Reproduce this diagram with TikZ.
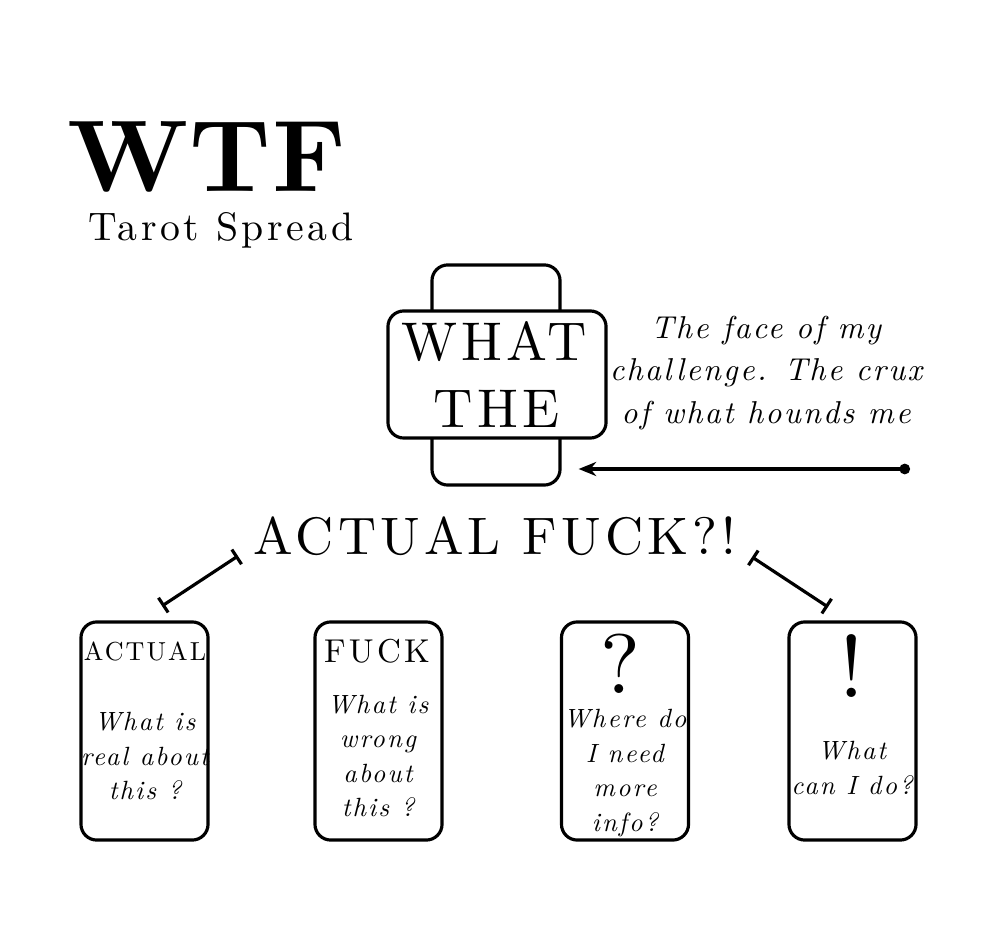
\documentclass[tikz,border=0pt]{standalone}
\usepackage{fontspec}
\setmainfont{lmroman10-regular.otf}[
  ItalicFont=lmroman10-italic.otf,
  BoldFont=lmroman10-bold.otf,
  BoldItalicFont=lmroman10-bolditalic.otf]
\usepackage{tikz}
\usetikzlibrary{arrows.meta}
\usetikzlibrary{positioning}
\newcommand{\lsp}[1]{\addfontfeature{LetterSpace=#1}}
\tikzset{
  card/.style={draw, line width=0.9pt, rounded corners=4.5pt, fill=white},
  cardsize/.style={minimum width=1.27cm, minimum height=2.18cm},
  word/.style={inner sep=0pt, align=center},
  body/.style={word, font=\fontsize{7.5}{9.8}\selectfont\itshape\lsp{8}},
  bracket/.style={line width=0.9pt, {Bar[width=5pt]}-{Bar[width=5pt]}},
  pointer/.style={line width=0.9pt, {Circle[length=3pt]}-{Stealth[length=5pt,width=4pt]}}
}
\begin{document}
\begin{tikzpicture}[x=0.01cm,y=-0.01cm]
\useasboundingbox (0,0) rectangle (1000,949);
% heading
\node[word, font=\fontsize{29}{29}\selectfont\bfseries\lsp{1}] (wtf) at (207,157) {WTF};
\node[word, font=\fontsize{11.3}{12}\selectfont\lsp{9}] (spread) at (221,230) {Tarot Spread};

% centre card and the one laid across it
\node[card, minimum width=1.28cm, minimum height=2.2cm] (back) at (496,375) {};
\node[card, minimum width=2.18cm, minimum height=1.27cm] (cross) at (497,374.5) {};
\node[word, font=\fontsize{15.5}{16}\selectfont\lsp{8}] (what) at (494,342) {WHAT};
\node[word, font=\fontsize{15.5}{16}\selectfont\lsp{8}] (the) at (497,409) {THE};
\node[word, font=\fontsize{9}{12}\selectfont\itshape\lsp{7}] (face) at (766,373)
  {The face of my\\challenge. The crux\\of what hounds me};
\coordinate (dot) at (910,469);
\draw[pointer, shorten >=0.17cm] (dot) -- (back.east |- dot);

% spread line
\node[word, font=\fontsize{15}{16}\selectfont\lsp{8}] (af) at (495,536) {ACTUAL FUCK?!};
\coordinate (lbar) at (238,556);
\coordinate (ltip) at (162,606);
\coordinate (rbar) at (752,557);
\coordinate (rtip) at (828,607);
\draw[bracket] (lbar) -- (ltip);
\draw[bracket] (rbar) -- (rtip);

% the four cards
\node[card, cardsize] (actual) at (144.5,731) {};
\node[card, cardsize] (fuck) at (378.5,731) {};
\node[card, cardsize] (quest) at (625,731) {};
\node[card, cardsize] (bang) at (852.5,731) {};

\node[word, font=\fontsize{7.4}{8}\selectfont\lsp{8}] (actualt) at (145,651) {ACTUAL};
\node[word, font=\fontsize{9.4}{10}\selectfont\lsp{10}] (fuckt) at (377,651) {FUCK};
\node[word, font=\fontsize{24}{24}\selectfont] (questt) at (620,664) {?};
\node[word, font=\fontsize{25}{25}\selectfont] (bangt) at (852,666) {!};

\node[body] (actualb) at (145,756) {What is\\real about\\this ?};
\node[body] (fuckb) at (378,756) {What is\\wrong\\about\\this ?};
\node[body] (questb) at (625,773) {Where do\\I need\\more\\info?};
\node[body] (bangb) at (852,768) {What\\can I do?};
\end{tikzpicture}
\end{document}
